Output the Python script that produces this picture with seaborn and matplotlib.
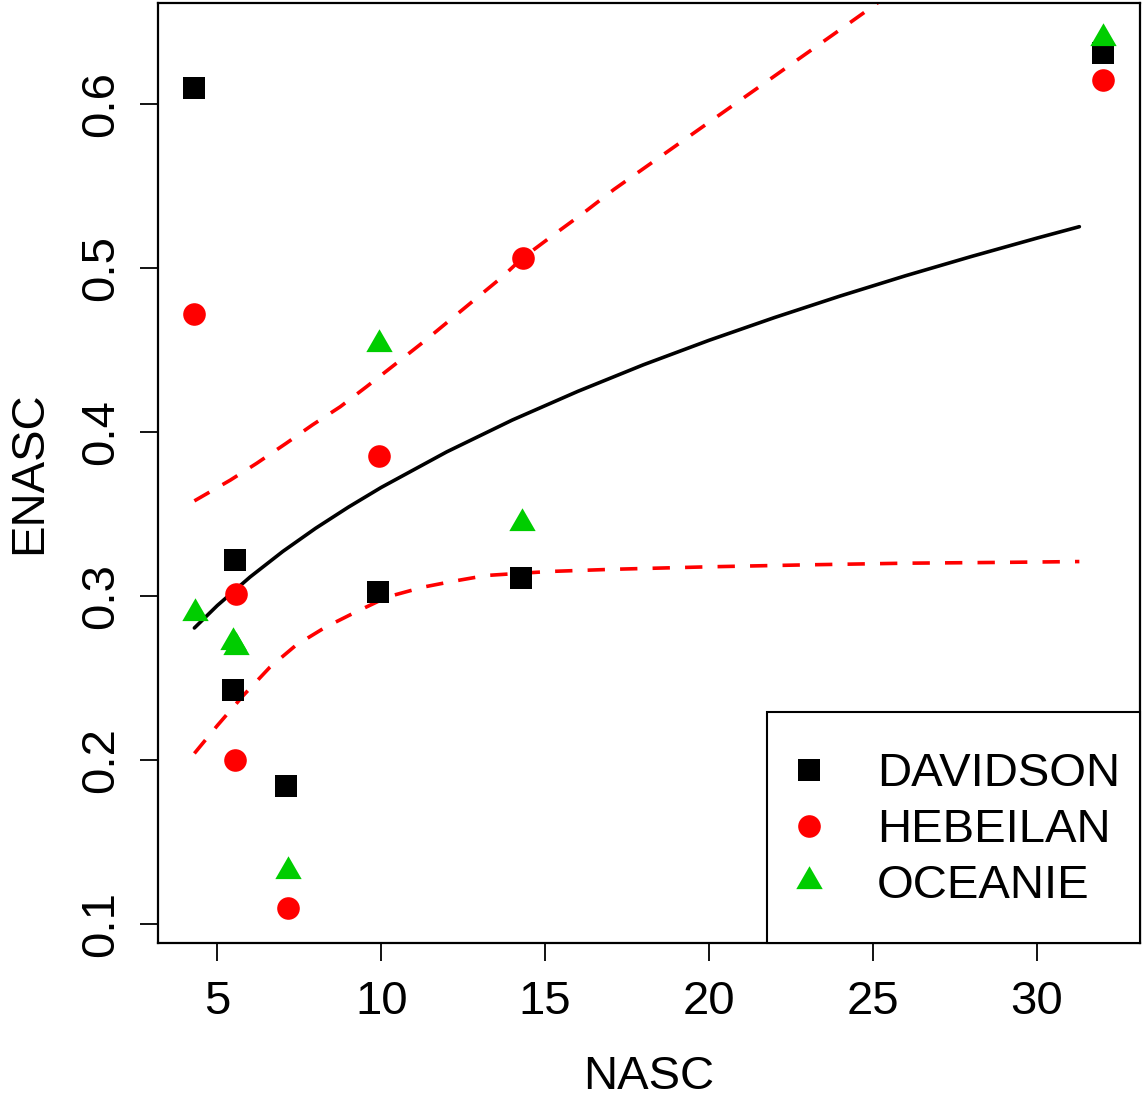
import matplotlib
matplotlib.use("Agg")
import matplotlib.pyplot as plt
from matplotlib.lines import Line2D
from matplotlib.patches import Rectangle
import seaborn as sns
import pandas as pd

# ---- data ----
davidson_x = [4.30, 5.53, 5.47, 7.11, 9.90, 14.26, 32.03]
davidson_y = [0.610, 0.322, 0.2425, 0.184, 0.3024, 0.3108, 0.631]
hebeilan_x = [4.30, 5.58, 5.53, 7.17, 9.92, 14.32, 32.03]
hebeilan_y = [0.4721, 0.301, 0.200, 0.1096, 0.3855, 0.5059, 0.6146]
oceanie_x = [4.31, 5.47, 5.57, 7.17, 9.92, 14.31, 32.03]
oceanie_y = [0.2895, 0.272, 0.2689, 0.132, 0.4538, 0.3445, 0.6405]

fit_x = [4.3, 5, 6, 7, 8, 9, 10, 12, 14, 16, 18, 20, 22, 24, 26, 28, 30, 31.3]
fit_y = [0.2805, 0.2942, 0.3116, 0.3272, 0.3413, 0.3542, 0.3662, 0.3879, 0.4073,
         0.4248, 0.4410, 0.4559, 0.4698, 0.4829, 0.4953, 0.5070, 0.5182, 0.5252]

lo_x = [4.3, 5.0, 5.8, 6.6, 7.4, 8.3, 9.2, 10.2, 11.3, 12.2, 13.2, 14.2, 15.2,
        17.1, 20, 23, 26, 29, 31.3]
lo_y = [0.204, 0.221, 0.2395, 0.2565, 0.270, 0.281, 0.290, 0.2995, 0.3055, 0.309,
        0.3125, 0.3138, 0.315, 0.3163, 0.3178, 0.319, 0.320, 0.3205, 0.321]

up_x = [4.3, 5.4, 6.2, 7.1, 7.9, 8.75, 9.55, 10.4, 11.3, 12.1, 12.9, 13.7, 14.3,
        15.25, 16.2, 17.1, 18.8, 19.6, 20.5, 21.3, 22.15, 23.0, 23.8, 24.7, 25.3]
up_y = [0.358, 0.3707, 0.3809, 0.3931, 0.4043, 0.4154, 0.4276, 0.4409, 0.4551,
        0.4683, 0.4815, 0.4947, 0.5059, 0.5201, 0.5340, 0.5479, 0.5719, 0.5832,
        0.5959, 0.6072, 0.6192, 0.6312, 0.6425, 0.6553, 0.664]

series_names = ["DAVIDSON", "HEBEILAN", "OCEANIE"]
x_ticks = [5, 10, 15, 20, 25, 30]
y_ticks = [0.1, 0.2, 0.3, 0.4, 0.5, 0.6]

# ---- style ----
sns.set_style("white")
plt.rcParams["font.family"] = ["Liberation Sans", "DejaVu Sans"]
plt.rcParams["text.color"] = "black"
plt.rcParams["axes.labelcolor"] = "black"
plt.rcParams["xtick.color"] = "black"
plt.rcParams["ytick.color"] = "black"
FS = 34

GREEN = "#00CD00"
TRI = [(0, 1), (-0.866, -0.5), (0.866, -0.5), (0, 1)]

W, H = 1142, 1097
fig = plt.figure(figsize=(W / 100, H / 100), dpi=100)
ax = fig.add_axes([158 / W, 1 - 943 / H, (1140 - 158) / W, (943 - 3) / H])

df_d = pd.DataFrame({"NASC": davidson_x, "ENASC": davidson_y})
df_h = pd.DataFrame({"NASC": hebeilan_x, "ENASC": hebeilan_y})
df_o = pd.DataFrame({"NASC": oceanie_x, "ENASC": oceanie_y})

sns.lineplot(data=pd.DataFrame({"x": fit_x, "y": fit_y}), x="x", y="y", ax=ax,
             color="black", lw=2.6, estimator=None, sort=False, zorder=2)
for lx, ly in [(lo_x, lo_y), (up_x, up_y)]:
    sns.lineplot(data=pd.DataFrame({"x": lx, "y": ly}), x="x", y="y", ax=ax,
                 color="red", lw=2.6, estimator=None, sort=False, zorder=2)
ax.lines[1].set_dashes((4.8, 4.2))
ax.lines[2].set_dashes((4.8, 4.2))

sns.scatterplot(data=df_d, x="NASC", y="ENASC", ax=ax, marker="s", s=250,
                color="black", linewidth=0, zorder=3)
sns.scatterplot(data=df_h, x="NASC", y="ENASC", ax=ax, marker="o", s=265,
                color="red", linewidth=0, zorder=3)
sns.scatterplot(data=df_o, x="NASC", y="ENASC", ax=ax, marker=TRI, s=480,
                color=GREEN, linewidth=0, zorder=3)

ax.set_xlim(3.19, 33.15)
ax.set_ylim(0.0884, 0.6616)
ax.set_xticks(x_ticks)
ax.set_xticklabels([str(t) for t in x_ticks])
ax.set_yticks(y_ticks)
ax.set_yticklabels([f"{t:.1f}" for t in y_ticks], rotation=90, va="center")

for sp in ax.spines.values():
    sp.set_visible(True)
    sp.set_color("black")
    sp.set_linewidth(1.6)

ax.tick_params(axis="both", direction="out", length=13, width=1.3, color="black",
               labelsize=FS, labelcolor="black", bottom=True, left=True)
ax.tick_params(axis="x", pad=14)
ax.tick_params(axis="y", pad=12)

ax.set_xlabel("NASC", fontsize=FS, labelpad=22, color="black")
ax.set_ylabel("ENASC", fontsize=FS, labelpad=20, color="black")

# legend box (frame) drawn as a rectangle in figure pixels
box = Rectangle((767 / W, 1 - 943 / H), (1140 - 767) / W, (943 - 712) / H,
                transform=fig.transFigure, facecolor="white", edgecolor="black",
                linewidth=1.5, zorder=5, clip_on=False)
ax.add_patch(box)

handles = [
    Line2D([], [], ls="none", marker="s", markersize=16, color="black", markeredgewidth=0),
    Line2D([], [], ls="none", marker="o", markersize=16.3, color="red", markeredgewidth=0),
    Line2D([], [], ls="none", marker=TRI, markersize=22, color=GREEN, markeredgewidth=0),
]
leg = ax.legend(handles, series_names, loc="upper left",
                bbox_to_anchor=(785.4 / W, 1 - 752.4 / H),
                bbox_transform=fig.transFigure, borderaxespad=0, borderpad=0,
                fontsize=FS, frameon=False, handlelength=1.0,
                handletextpad=0.94, labelspacing=0.25, labelcolor="black")
leg.set_zorder(6)

fig.savefig("out.png", dpi=100)
